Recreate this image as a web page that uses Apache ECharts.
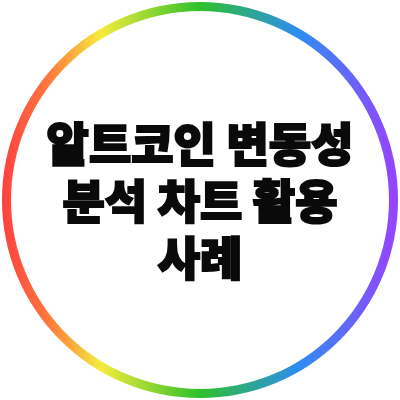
<!DOCTYPE html>
<html>
<head>
<meta charset="utf-8">
<script src="https://cdn.jsdelivr.net/npm/echarts@6/dist/echarts.min.js"></script>
<style>
html,body{margin:0;padding:0;background:#fff;}
#c{width:400px;height:400px;}
</style>
</head>
<body>
<div id="c"></div>
<script>
// Data
var ringNames = ['ring'];
var ringValues = [1];
var gradientOffsets = [0, 0.12, 0.25, 0.5, 0.75, 1];
var gradientColors = ['#ff3f3f', '#ff7a3e', '#f4ec3c', '#2ec02c', '#2d8cf2', '#9a42ff'];
var titleLines = ['알트코인 변동성', '분석 차트 활용', '사례'];

var chart = echarts.init(document.getElementById('c'));
var stops = gradientOffsets.map(function (o, i) { return { offset: o, color: gradientColors[i] }; });

chart.setOption({
  backgroundColor: '#ffffff',
  animation: false,
  series: [{
    type: 'pie',
    silent: true,
    center: [200, 200],
    radius: [189, 198],
    label: { show: false },
    labelLine: { show: false },
    emphasis: { disabled: true },
    itemStyle: {
      color: new echarts.graphic.LinearGradient(0, 0, 1, 0, stops)
    },
    data: ringNames.map(function (n, i) { return { name: n, value: ringValues[i] }; })
  }],
  graphic: [{
    type: 'text',
    x: 200,
    y: 201,
    silent: true,
    style: {
      text: titleLines.join('\n'),
      textAlign: 'center',
      textVerticalAlign: 'middle',
      fontFamily: '"Noto Sans CJK KR", sans-serif',
      fontWeight: 900,
      fontSize: 46,
      lineHeight: 57,
      fill: '#0a0a0a',
      stroke: '#0a0a0a',
      lineWidth: 2
    }
  }]
});
</script>
</body>
</html>
